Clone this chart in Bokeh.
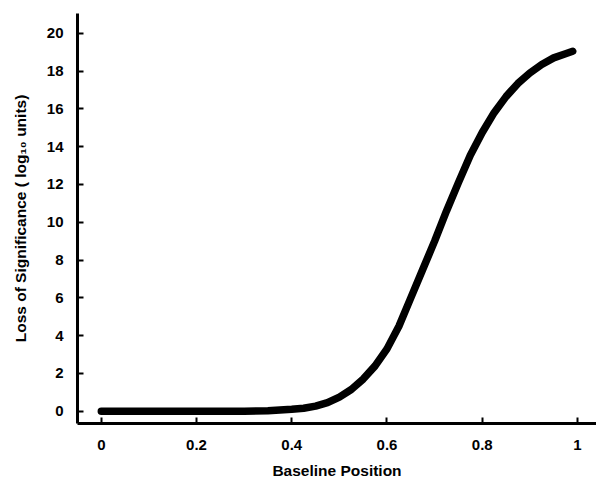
from bokeh.plotting import figure
from bokeh.models import Range1d, FixedTicker
from bokeh.embed import file_html
from bokeh.resources import INLINE

# Data
position = [0.0, 0.1, 0.2, 0.3, 0.35, 0.4, 0.425, 0.45, 0.475, 0.5, 0.525,
            0.55, 0.575, 0.6, 0.625, 0.65, 0.675, 0.7, 0.725, 0.75, 0.775,
            0.8, 0.825, 0.85, 0.875, 0.9, 0.925, 0.95, 0.975, 0.99]
loss = [0.0, 0.0, 0.0, 0.0, 0.02, 0.1, 0.16, 0.27, 0.45, 0.75, 1.15,
        1.7, 2.4, 3.3, 4.5, 6.0, 7.5, 9.0, 10.6, 12.1, 13.55,
        14.75, 15.8, 16.65, 17.35, 17.9, 18.35, 18.7, 18.92, 19.05]

x_ticks = [0, 0.2, 0.4, 0.6, 0.8, 1]
x_tick_labels = ["0", "0.2", "0.4", "0.6", "0.8", "1"]
y_ticks = [0, 2, 4, 6, 8, 10, 12, 14, 16, 18, 20]

FONT = "Liberation Sans"

p = figure(width=596, height=489, output_backend="svg", toolbar_location=None,
           x_range=Range1d(-0.05, 1.04), y_range=Range1d(-0.65, 21.05),
           min_border_left=77, min_border_right=0, min_border_top=13,
           min_border_bottom=66)
p.outline_line_color = None
p.grid.visible = False
p.background_fill_color = "white"
p.border_fill_color = "white"

p.line(position, loss, line_width=7.5, line_color="black", line_cap="round",
       line_join="round")

for ax in (p.xaxis[0], p.yaxis[0]):
    ax.axis_line_width = 3
    ax.axis_line_color = "black"
    ax.major_tick_in = 6
    ax.major_tick_out = 0
    ax.major_tick_line_width = 2
    ax.major_tick_line_color = "black"
    ax.minor_tick_line_color = None
    ax.major_label_text_font = FONT
    ax.major_label_text_font_style = "bold"
    ax.major_label_text_font_size = "15px"
    ax.major_label_text_color = "black"
    ax.axis_label_text_font = FONT
    ax.axis_label_text_font_style = "bold"
    ax.axis_label_text_font_size = "15.5px"
    ax.axis_label_text_color = "black"

p.xaxis.ticker = FixedTicker(ticks=x_ticks)
p.xaxis.major_label_overrides = {t: l for t, l in zip(x_ticks, x_tick_labels)}
p.yaxis.ticker = FixedTicker(ticks=y_ticks)
p.xaxis.axis_label = "Baseline Position"
p.yaxis.axis_label = "Loss of Significance ( log\u2081\u2080 units)"
p.xaxis.major_label_standoff = 16
p.xaxis.axis_label_standoff = 9
p.yaxis.major_label_standoff = 14
p.yaxis.axis_label_standoff = 15

open("out.html", "w").write(file_html(p, INLINE))
